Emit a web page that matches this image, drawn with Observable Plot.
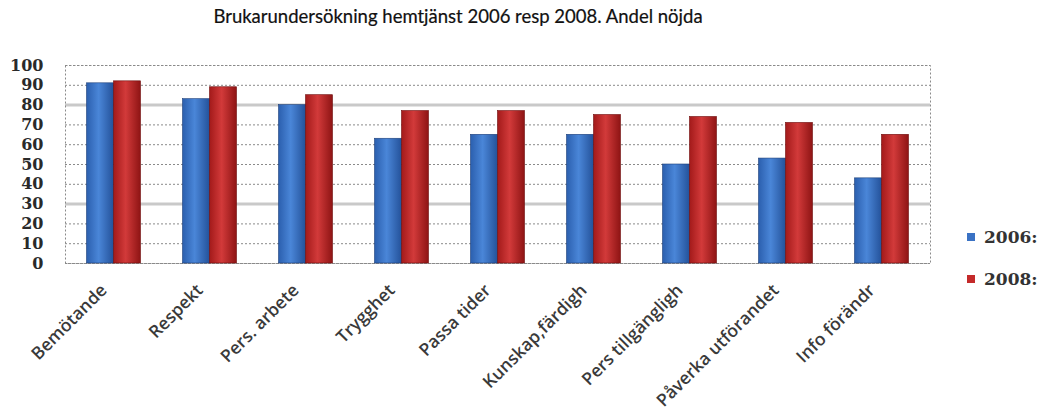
<!DOCTYPE html>
<html>
<head>
<meta charset="utf-8">
<script src="https://cdn.jsdelivr.net/npm/d3@7"></script>
<script src="https://cdn.jsdelivr.net/npm/@observablehq/plot@0.6"></script>
<style>
  html, body { margin: 0; padding: 0; background: #fff; }
  #wrap { position: relative; width: 1042px; height: 419px; overflow: hidden; }
  #title { position: absolute; left: 0; top: 5px; width: 916px; text-align: center;
           font-family: Lato, "Open Sans", sans-serif; font-size: 18.5px; color: #111; -webkit-text-stroke: 0.2px #111; }
  #chart { position: absolute; left: 0; top: 40px; }
  #legend { position: absolute; left: 967px; top: 226px; font-family: "DejaVu Serif", "Liberation Serif", serif;
            font-weight: bold; font-size: 17px; color: #333; }
  .item { display: flex; align-items: center; height: 22px; margin-bottom: 20px; white-space: nowrap; }
  .sw { width: 8px; height: 8px; margin-right: 9px; }
</style>
</head>
<body>
<div id="wrap">
  <div id="title"></div>
  <div id="chart"></div>
  <div id="legend"></div>
</div>
<script>
const titleText = "Brukarundersökning hemtjänst 2006 resp 2008. Andel nöjda";
const categories = ["Bemötande", "Respekt", "Pers. arbete", "Trygghet", "Passa tider", "Kunskap,färdigh", "Pers tillgängligh", "Påverka utförandet", "Info förändr"];
const values2006 = [91, 83, 80, 63, 65, 65, 50, 53, 43];
const values2008 = [92, 89, 85, 77, 77, 75, 74, 71, 65];
const seriesNames = ["2006:", "2008:"];
const yTicks = [0, 10, 20, 30, 40, 50, 60, 70, 80, 90, 100];
const heavyGrid = [30, 80];

const rows2006 = categories.map((c, i) => ({cat: c, v: values2006[i]}));
const rows2008 = categories.map((c, i) => ({cat: c, v: values2008[i]}));

document.getElementById("title").textContent = titleText;

const chart = Plot.plot({
  width: 1042,
  height: 379,
  marginTop: 25,
  marginLeft: 65,
  marginRight: 112,
  marginBottom: 156,
  x: {domain: categories, paddingInner: 0.72, paddingOuter: 0.36, label: null},
  y: {domain: [0, 100], ticks: yTicks, label: null},
  marks: [
    Plot.ruleY(yTicks, {stroke: "#8a8a8a", strokeDasharray: "2,2", strokeWidth: 1}),
    Plot.ruleY(heavyGrid, {stroke: "#c9c9c9", strokeWidth: 3}),
    Plot.frame({stroke: "#8a8a8a", strokeDasharray: "2,2"}),
    Plot.barY(rows2006, {x: "cat", y: "v", dx: -13.5, fill: "url(#gBlue)", stroke: "#1d3f78", strokeWidth: 0.6}),
    Plot.barY(rows2008, {x: "cat", y: "v", dx: 13.5, fill: "url(#gRed)", stroke: "#6e0d0d", strokeWidth: 0.6}),
    Plot.axisY({ticks: yTicks, tickSize: 0, tickPadding: 22, fontSize: 16,
      fontFamily: "DejaVu Serif", fontWeight: "bold", fill: "#2a2a2a"}),
    Plot.axisX({tickSize: 0, tickRotate: -45, tickPadding: 24, dx: -10, fontSize: 17.5,
      fontFamily: "Open Sans", fontWeight: 600, fill: "#3a3a3a"})
  ]
});

const ns = "http://www.w3.org/2000/svg";
const defs = document.createElementNS(ns, "defs");
function grad(id, stops) {
  const g = document.createElementNS(ns, "linearGradient");
  g.setAttribute("id", id);
  g.setAttribute("x1", "0"); g.setAttribute("x2", "1"); g.setAttribute("y1", "0"); g.setAttribute("y2", "0");
  stops.forEach(([o, c]) => {
    const s = document.createElementNS(ns, "stop");
    s.setAttribute("offset", o); s.setAttribute("stop-color", c);
    g.appendChild(s);
  });
  defs.appendChild(g);
}
grad("gBlue", [["0", "#2b5fae"], ["0.45", "#4a86d8"], ["1", "#24529a"]]);
grad("gRed", [["0", "#a31a1a"], ["0.45", "#d23a3a"], ["1", "#8e1414"]]);
chart.insertBefore(defs, chart.firstChild);
document.getElementById("chart").appendChild(chart);

const legendFlat = ["#3a72c4", "#c42a2a"];
const legend = document.getElementById("legend");
seriesNames.forEach((n, i) => {
  const it = document.createElement("div");
  it.className = "item";
  const sw = document.createElement("span");
  sw.className = "sw";
  sw.style.background = legendFlat[i];
  it.appendChild(sw);
  const t = document.createElement("span");
  t.textContent = n;
  it.appendChild(t);
  legend.appendChild(it);
});
</script>
</body>
</html>
